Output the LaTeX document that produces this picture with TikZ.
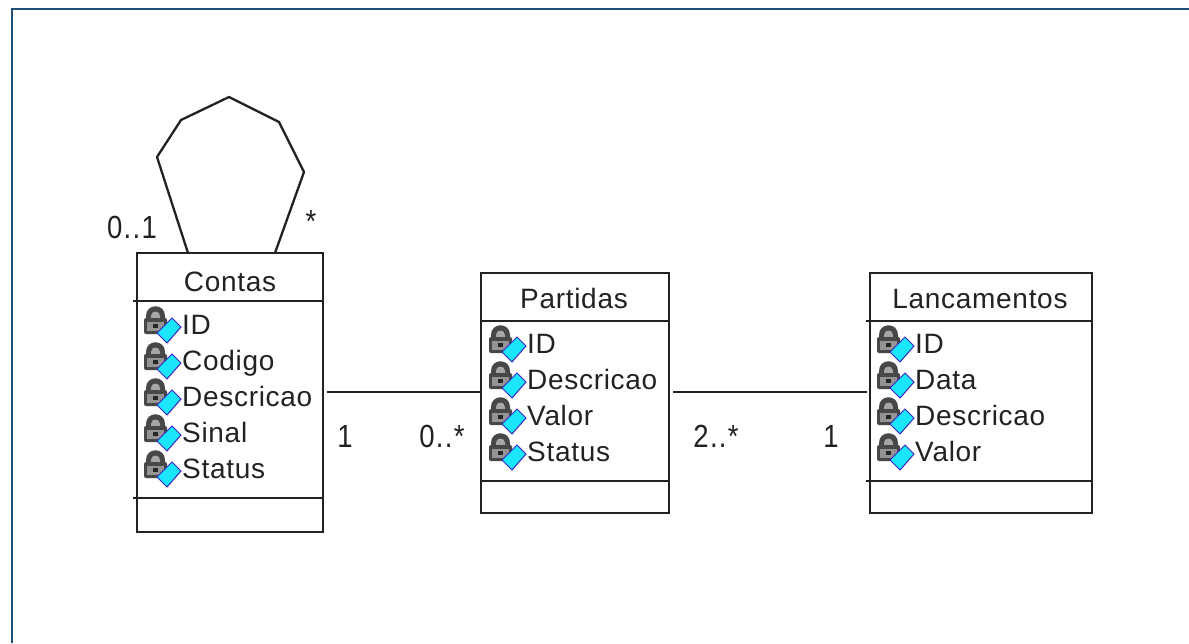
\documentclass[tikz,border=0pt]{standalone}
\usepackage{fontspec}
\setmainfont[LetterSpace=2.5]{Liberation Sans}
\newfontface\multfont[FakeStretch=0.86,LetterSpace=4]{Liberation Sans}
\definecolor{ink}{HTML}{222222}
\definecolor{frameblue}{HTML}{1F4E79}
\definecolor{keycyan}{HTML}{19E6FA}
\definecolor{keyedge}{HTML}{3A22C8}
\tikzset{
  x=1pt,y=-1pt,
  umlbox/.style={draw=ink,line width=2.3pt,fill=white,rectangle,anchor=north west,inner sep=0pt,outer sep=0pt},
  umlline/.style={draw=ink,line width=2.3pt},
  title/.style={font=\fontsize{28}{28}\selectfont,text=ink,anchor=base,inner sep=0pt},
  attrtext/.style={font=\fontsize{28}{28}\selectfont,text=ink,anchor=base west,inner sep=0pt},
  mult/.style={font=\multfont\fontsize{32}{32}\selectfont,text=ink,anchor=base,inner sep=0pt},
  pics/keyicon/.style={code={
    % shackle
    \fill[black!72] (-36,-12) -- (-36,-18) .. controls (-36,-31) and (-17,-31) .. (-17,-18) -- (-17,-12) -- cycle;
    \fill[black!35] (-31,-14) -- (-31,-18) .. controls (-31,-24) and (-22,-24) .. (-22,-18) -- (-22,-14) -- cycle;
    % lock body
    \fill[black!72,rounded corners=2pt] (-38,-16) rectangle (-15,0);
    \fill[black!42] (-35,-12) rectangle (-18,-3);
    \fill[black!85] (-29,-10) rectangle (-24,-6);
    % key
    \draw[line width=1pt,draw=keyedge,fill=keycyan] (-10,-16) -- (-1,-7) -- (-15,9) -- (-25,-1) -- cycle;
  }}
}
\newcommand\attrib[4]{%
  \node[attrtext] (#1) at (#2,#3) {#4};
  \pic at (#1.base west) {keyicon};
}
\begin{document}
\begin{tikzpicture}
\useasboundingbox (0,0) rectangle (1189,643);
\fill[white] (0,0) rectangle (1189,643);
\coordinate (frameBottom) at (12,643);
\coordinate (frameCorner) at (12,9);
\coordinate (frameRight) at (1189,9);
\draw[frameblue,line width=2.5pt] (frameBottom) -- (frameCorner) -- (frameRight);

% classes
\node[umlbox,minimum width=186pt,minimum height=279pt] (contas) at (137,253) {};
\node[umlbox,minimum width=188pt,minimum height=240pt] (partidas) at (481,273) {};
\node[umlbox,minimum width=222pt,minimum height=240pt] (lancamentos) at (870,273) {};

% compartment separators
\coordinate (c1l) at (133,301); \coordinate (c1r) at (323,301);
\coordinate (c2l) at (133,498); \coordinate (c2r) at (323,498);
\draw[umlline] (c1l) -- (c1r); \draw[umlline] (c2l) -- (c2r);
\coordinate (p1l) at (481,321); \coordinate (p1r) at (669,321);
\coordinate (p2l) at (481,481); \coordinate (p2r) at (669,481);
\draw[umlline] (p1l) -- (p1r); \draw[umlline] (p2l) -- (p2r);
\coordinate (l1l) at (866,321); \coordinate (l1r) at (1092,321);
\coordinate (l2l) at (866,481); \coordinate (l2r) at (1092,481);
\draw[umlline] (l1l) -- (l1r); \draw[umlline] (l2l) -- (l2r);

% titles
\node[title] (contasT) at (230,291) {Contas};
\node[title] (partidasT) at (574,308) {Partidas};
\node[title] (lancamentosT) at (980,308) {Lancamentos};

% attributes
\attrib{c-a}{182}{334}{ID}
\attrib{c-b}{182}{370}{Codigo}
\attrib{c-c}{182}{406}{Descricao}
\attrib{c-d}{182}{442}{Sinal}
\attrib{c-e}{182}{478}{Status}
\attrib{p-a}{527}{353}{ID}
\attrib{p-b}{527}{389}{Descricao}
\attrib{p-c}{527}{425}{Valor}
\attrib{p-d}{527}{461}{Status}
\attrib{l-a}{915}{353}{ID}
\attrib{l-b}{915}{389}{Data}
\attrib{l-c}{915}{425}{Descricao}
\attrib{l-d}{915}{461}{Valor}

% associations
\coordinate (contasPort) at (327,392);
\coordinate (partidasPort) at (673,392);
\coordinate (lancPort) at (867,392);
\draw[umlline] (contasPort) -- (contasPort -| partidas.west);
\draw[umlline] (partidasPort) -- (lancPort);
\coordinate (loopA) at (188,253);
\coordinate (loopB) at (275,253);
\draw[umlline,line join=round] (loopA) -- (157,157) -- (181,120) -- (229,97) -- (279,122) -- (304,172) -- (loopB);

% multiplicities
\node[mult] (m1) at (132,238) {0..1};
\node[mult] (m2) at (311,232) {*};
\node[mult] (m3) at (345,447) {1};
\node[mult] (m4) at (442,447) {0..*};
\node[mult] (m5) at (716,447) {2..*};
\node[mult] (m6) at (831,447) {1};
\end{tikzpicture}
\end{document}
